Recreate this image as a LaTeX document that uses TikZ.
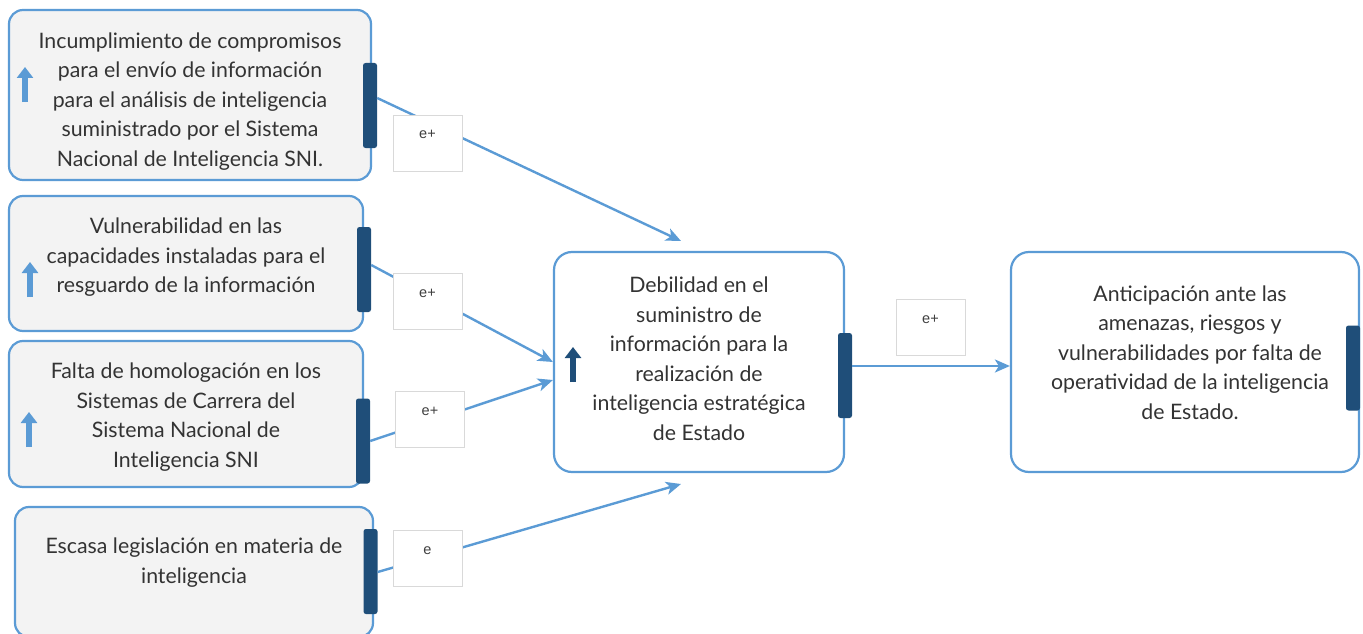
\documentclass[tikz,border=0pt]{standalone}
\usepackage{fontspec}
\setmainfont{Lato}
\newfontfamily\labfont{Liberation Sans}
\usetikzlibrary{arrows.meta}
\definecolor{bord}{HTML}{5B9BD5}
\definecolor{boxfill}{HTML}{F3F3F3}
\definecolor{dark}{HTML}{1F4E79}
\definecolor{txt}{HTML}{333333}
\definecolor{labbord}{HTML}{D9D9D9}
\definecolor{labtxt}{HTML}{404040}
\tikzset{
  cause/.style={draw=bord, line width=2.2pt, fill=boxfill, rounded corners=14pt, inner sep=0pt},
  effect/.style={draw=bord, line width=2.2pt, fill=white, rounded corners=18pt, inner sep=0pt},
  txtnode/.style={align=center, text=txt, font=\fontsize{21.3}{29.5}\selectfont, inner sep=0pt},
  handle/.style={fill=dark, rounded corners=2.5pt, minimum width=14pt, minimum height=85pt, inner sep=0pt},
  lab/.style={draw=labbord, line width=1pt, fill=white, minimum width=69pt, text height=16pt, text depth=25pt, inner ysep=7.5pt, inner xsep=0pt, font=\labfont\fontsize{14.5}{16}\selectfont, text=labtxt},
  conn/.style={draw=bord, line width=2.4pt, -{Stealth[length=15pt,width=13pt,inset=4pt]}},
  uparrow/.style={line width=5.5pt, -{Triangle[length=11pt,width=16pt]}},
}
\begin{document}
\begin{tikzpicture}[x=1pt,y=-1pt]
\useasboundingbox (0,0) rectangle (1363,634);
% cause boxes
\node[cause, minimum width=362pt, minimum height=170pt] (c1) at (190,95) {};
\node[cause, minimum width=354pt, minimum height=135pt] (c2) at (186,263.5) {};
\node[cause, minimum width=354pt, minimum height=146pt] (c3) at (186,414) {};
\node[cause, minimum width=358pt, minimum height=130pt] (c4) at (194,572) {};
% effect boxes
\node[effect, minimum width=290pt, minimum height=220pt] (ce) at (699,362) {};
\node[effect, minimum width=348pt, minimum height=220pt] (re) at (1185,362) {};
% texts
\node[txtnode] (t1) at (190,101.5) {Incumplimiento de compromisos\\para el envío de información\\para el análisis de inteligencia\\suministrado por el Sistema\\Nacional de Inteligencia SNI.};
\node[txtnode] (t2) at (186,257.5) {Vulnerabilidad en las\\capacidades instaladas para el\\resguardo de la información};
\node[txtnode] (t3) at (186,417) {Falta de homologación en los\\Sistemas de Carrera del\\Sistema Nacional de\\Inteligencia SNI};
\node[txtnode] (t4) at (194,562.5) {Escasa legislación en materia de\\inteligencia};
\node[txtnode] (tc) at (699,358.5) {Debilidad en el\\suministro de\\información para la\\realización de\\inteligencia estratégica\\de Estado};
\node[txtnode] (tr) at (1190,352.5) {Anticipación ante las\\amenazas, riesgos y\\vulnerabilidades por falta de\\operatividad de la inteligencia\\de Estado.};
% up arrows
\coordinate (a1s) at (25,102); \coordinate (a1e) at (25,67);
\coordinate (a2s) at (30,297); \coordinate (a2e) at (30,262);
\coordinate (a3s) at (29,447); \coordinate (a3e) at (29,412);
\coordinate (acs) at (573,382); \coordinate (ace) at (573,347);
\draw[uparrow, draw=bord, fill=bord] (a1s) -- (a1e);
\draw[uparrow, draw=bord, fill=bord] (a2s) -- (a2e);
\draw[uparrow, draw=bord, fill=bord] (a3s) -- (a3e);
\draw[uparrow, draw=dark, fill=dark] (acs) -- (ace);
% handles
\node[handle] (h1) at (370,105.5) {};
\node[handle] (h2) at (364,269.5) {};
\node[handle] (h3) at (363,441) {};
\node[handle] (h4) at (370.5,571.5) {};
\node[handle] (hc) at (845,375.5) {};
\node[handle] (hr) at (1353,368) {};
% connector ends
\coordinate (e1) at (681,241);
\coordinate (e4) at (681,484);
\draw[conn] ([yshift=7.5pt]h1.east) -- (e1);
\draw[conn] ([yshift=4.5pt]h2.east) -- (ce.west |- 0,362);
\draw[conn] (h3.east) -- (ce.west |- 0,380);
\draw[conn] ([yshift=-0.5pt]h4.east) -- (e4);
\draw[conn] ([yshift=9.5pt]hc.east) -- (re.west |- 0,366);
% labels
\node[lab] (l1) at (427.5,143) {e+};
\node[lab] (l2) at (427.5,301.5) {e+};
\node[lab] (l3) at (430,419.5) {e+};
\node[lab] (l4) at (427.5,558.5) {e};
\node[lab] (l5) at (930.5,327.5) {e+};
\end{tikzpicture}
\end{document}
